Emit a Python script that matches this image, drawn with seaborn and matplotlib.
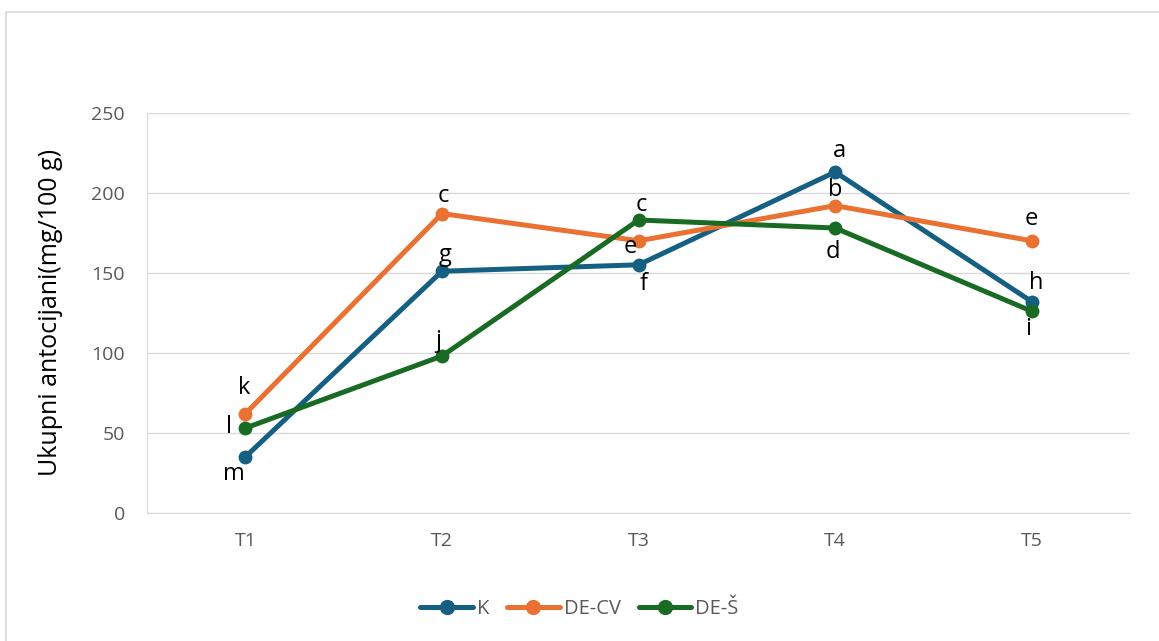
import pandas as pd
import numpy as np
import seaborn as sns
import matplotlib.pyplot as plt
from matplotlib.patches import Rectangle

# data
tretmani = ["T1", "T2", "T3", "T4", "T5"]
K = [35, 151, 155, 213, 132]
DE_CV = [62, 187, 170, 192, 170]
DE_S = [53, 98, 183, 178, 126]
slova_K = ["m", "g", "f", "a", "h"]
slova_DE_CV = ["k", "c", "e", "b", "e"]
slova_DE_S = ["l", "j", "c", "d", "i"]

serije = ["K", "DE-CV", "DE-Š"]
boje = {"K": "#156082", "DE-CV": "#E97132", "DE-Š": "#196B24"}

df = pd.DataFrame({
    "tretman": tretmani * 3,
    "vrijednost": K + DE_CV + DE_S,
    "grupa": ["K"] * 5 + ["DE-CV"] * 5 + ["DE-Š"] * 5,
})

sns.set_style("white")
plt.rcParams["font.family"] = ["Open Sans", "DejaVu Sans"]

fig = plt.figure(figsize=(11.59, 6.41), dpi=100)
ax = fig.add_axes([0.127, 0.2, 0.848, 0.624])

sns.lineplot(data=df, x="tretman", y="vrijednost", hue="grupa", palette=boje,
             hue_order=serije, marker="o", markersize=10, linewidth=3.6,
             markeredgewidth=0, ax=ax, legend=False)

# letter labels (offsets in pixels)
pomaci = {
    "K": [(-12, -17), (3, 16), (5, -19), (4, 21), (4, 19)],
    "DE-CV": [(-1, 26), (1, 18), (-8, -6), (0, 16), (0, 22)],
    "DE-Š": [(-16, 1), (-4, 15), (3, 15), (-2, -24), (-4, -18)],
}
slova = {"K": slova_K, "DE-CV": slova_DE_CV, "DE-Š": slova_DE_S}
vrijednosti = {"K": K, "DE-CV": DE_CV, "DE-Š": DE_S}
for s in serije:
    for i in range(5):
        ax.annotate(slova[s][i], (i, vrijednosti[s][i]), xytext=pomaci[s][i],
                    textcoords="offset pixels", ha="center", va="center",
                    fontsize=17, color="black")

ax.set_xlim(-0.5, 4.5)
ax.set_ylim(0, 250)
ax.set_yticks([0, 50, 100, 150, 200, 250])
ax.yaxis.grid(True, color="#D9D9D9", linewidth=1)
ax.set_axisbelow(True)
for sp in ["top", "right"]:
    ax.spines[sp].set_visible(False)
ax.spines["left"].set_color("#D9D9D9")
ax.spines["bottom"].set_color("#D9D9D9")
ax.tick_params(axis="both", length=0, labelsize=14, colors="#595959")
ax.tick_params(axis="y", pad=16)
ax.tick_params(axis="x", pad=14)
ax.set_xlabel("")
ax.set_ylabel("Ukupni antocijani(mg/100 g)", fontsize=18, color="black", labelpad=20)

handles = [plt.Line2D([], [], color=boje[s], marker="o", markersize=11,
                      linewidth=3.6, markeredgewidth=0) for s in serije]
fig.legend(handles, serije, loc="center", bbox_to_anchor=(0.5, 0.05), ncol=3,
           frameon=False, fontsize=14.5, labelcolor="#595959", handlelength=2.6,
           columnspacing=0.9, handletextpad=0.2)

fig.patches.append(Rectangle((0.005, -0.01), 1.0, 0.992, transform=fig.transFigure,
                             fill=False, edgecolor="#D9D9D9", linewidth=1.2))

fig.savefig("out.png", dpi=100)
